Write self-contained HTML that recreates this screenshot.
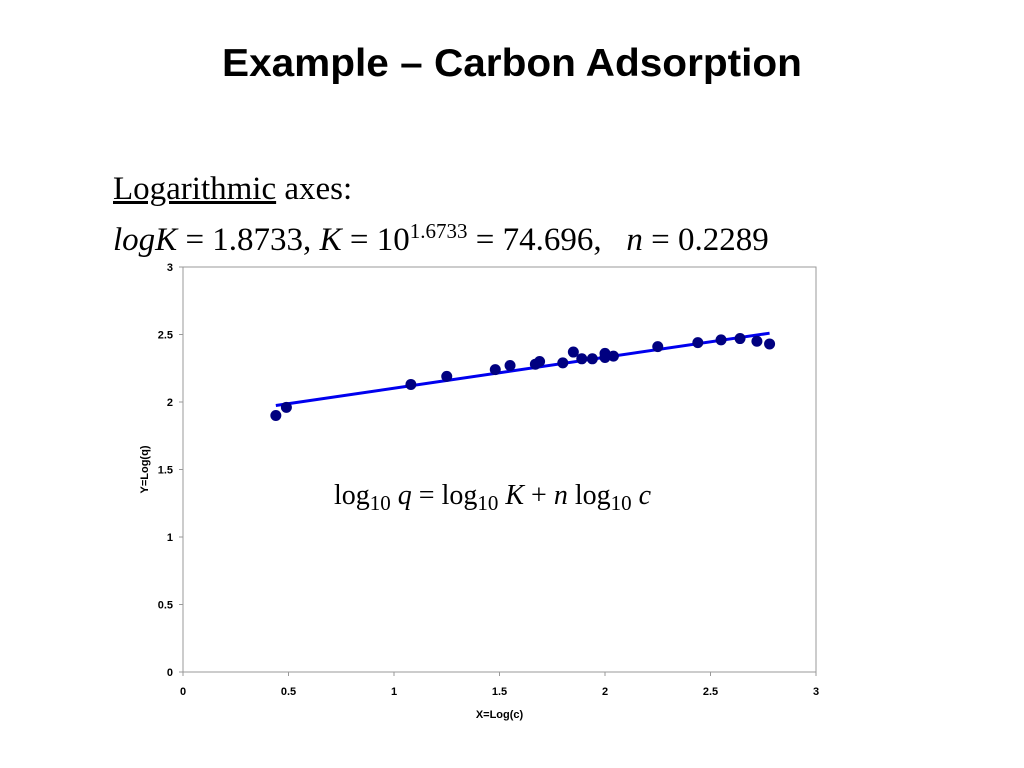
<!DOCTYPE html>
<html><head><meta charset="utf-8"><style>
body{margin:0;width:1024px;height:768px;background:#fff;overflow:hidden;position:relative;font-family:"Liberation Sans",sans-serif}
.t{position:absolute}
</style></head><body>
<div class="t" style="left:0;width:1024px;top:42px;text-align:center;font:bold 39px 'Liberation Sans',sans-serif;transform:scaleX(1.04)">Example – Carbon Adsorption</div>
<div class="t" style="left:113px;top:168px;font:33px 'Liberation Serif',serif;line-height:42px;white-space:nowrap"><u>Logarithmic</u> axes:<br><i>logK</i> = 1.8733, <i>K</i> = 10<sup style="font-size:21px">1.6733</sup> = 74.696, &nbsp; <i>n</i> = 0.2289</div>
<svg class="t" style="left:0;top:0" width="1024" height="768">
<g id="g" font-family="Liberation Sans, sans-serif" font-size="11" font-weight="bold"></g>
<text x="334" y="504" font-family="Liberation Serif, serif" font-size="28">log<tspan font-size="21" dy="6">10</tspan><tspan dy="-6"> </tspan><tspan font-style="italic">q</tspan> = log<tspan font-size="21" dy="6">10</tspan><tspan dy="-6"> </tspan><tspan font-style="italic">K</tspan> + <tspan font-style="italic">n</tspan> log<tspan font-size="21" dy="6">10</tspan><tspan dy="-6"> </tspan><tspan font-style="italic">c</tspan></text>
</svg>
<script>
const xs=[0.44,0.49,1.08,1.25,1.48,1.55,1.67,1.69,1.80,1.85,1.89,1.94,2.00,2.00,2.04,2.25,2.44,2.55,2.64,2.72,2.78];
const ys=[1.90,1.96,2.13,2.19,2.24,2.27,2.28,2.30,2.29,2.37,2.32,2.32,2.36,2.33,2.34,2.41,2.44,2.46,2.47,2.45,2.43];
const intercept=1.8733, slope=0.2289;
const fitRange=[0.44,2.78];
const xTicks=[0,0.5,1,1.5,2,2.5,3], yTicks=[0,0.5,1,1.5,2,2.5,3];
const X0=183,X1=816,Y0=672,Y1=267;
const sx=v=>X0+(v-0)/3*(X1-X0), sy=v=>Y0-(v-0)/3*(Y0-Y1);
const g=document.getElementById('g'),NS='http://www.w3.org/2000/svg';
function mk(t,a){const e=document.createElementNS(NS,t);for(const k in a)e.setAttribute(k,a[k]);g.appendChild(e);return e;}
let e=mk('rect',{x:X0,y:Y1,width:X1-X0,height:Y0-Y1,fill:'none',stroke:'#999'});


xTicks.forEach(v=>{const l=mk('line',{x1:sx(v),x2:sx(v),y1:Y0,y2:Y0+4,stroke:'#999'});


const t=mk('text',{x:sx(v),y:Y0+23,'text-anchor':'middle'});t.textContent=v;

});
yTicks.forEach(v=>{const l=mk('line',{x1:X0-4,x2:X0,y1:sy(v),y2:sy(v),stroke:'#999'});


const t=mk('text',{x:X0-10,y:sy(v)+4,'text-anchor':'end'});t.textContent=v;

});
let xt=mk('text',{x:(X0+X1)/2,y:718,'text-anchor':'middle'});xt.textContent='X=Log(c)';


let yt=mk('text',{x:0,y:0,'text-anchor':'middle',transform:`translate(148,${(Y0+Y1)/2}) rotate(-90)`});yt.textContent='Y=Log(q)';


let fl=mk('line',{x1:sx(fitRange[0]),y1:sy(intercept+slope*fitRange[0]),x2:sx(fitRange[1]),y2:sy(intercept+slope*fitRange[1]),stroke:'#0000ee','stroke-width':3});


xs.forEach((v,i)=>{const c=mk('circle',{cx:sx(v),cy:sy(ys[i]),r:5.5,fill:'#000080'});

});
</script>
</body></html>
